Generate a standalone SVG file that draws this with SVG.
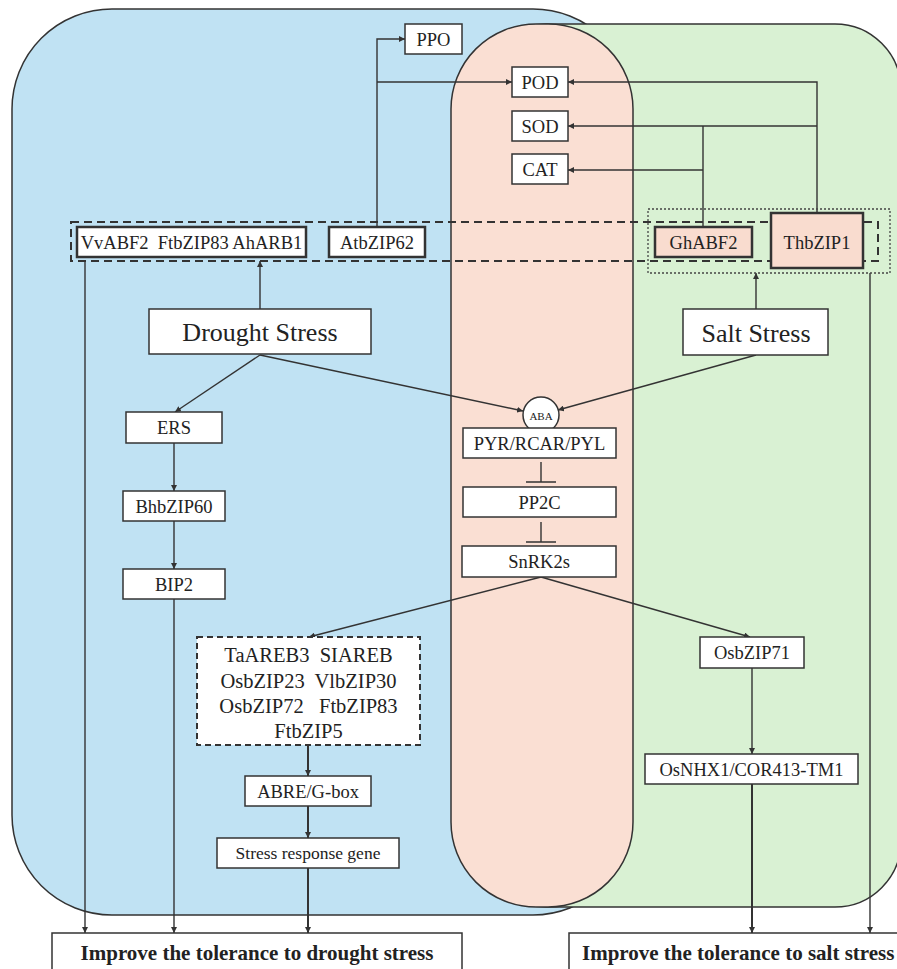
<svg xmlns="http://www.w3.org/2000/svg" width="897" height="969" viewBox="0 0 897 969">
<style>
text{font-family:"Liberation Serif","Times New Roman",serif;fill:#222;text-anchor:middle}
.bx{fill:#fff;stroke:#333;stroke-width:1.5}
.bxt{fill:#fff;stroke:#333;stroke-width:2.5}
.pk{fill:#f9dccf}
.c{fill:none;stroke:#333;stroke-width:1.4}
.t{font-size:18.5px}
</style>
<defs>
<marker id="ah" viewBox="0 0 10 10" refX="10" refY="5" markerWidth="6" markerHeight="6" markerUnits="userSpaceOnUse" orient="auto">
<path d="M0,0 L10,5 L0,10 z" fill="#333"/>
</marker>
</defs>
<g id="regions">
<rect x="12" y="9" width="621" height="906" rx="100" fill="#c0e2f3" stroke="#333" stroke-width="1.5"/>
<rect x="480" y="24" width="421" height="883" rx="66" fill="#d9f1d3" stroke="#333" stroke-width="1.5"/>
<rect x="451" y="24" width="182" height="883" rx="85" fill="#fadfd3" stroke="#333" stroke-width="1.5"/>
</g>
<g id="connectors" class="c">
<path d="M377,227 V39 H405" marker-end="url(#ah)"/>
<path d="M377,82 H512" marker-end="url(#ah)"/>
<path d="M817,213 V82 H568" marker-end="url(#ah)"/>
<path d="M817,126 H568" marker-end="url(#ah)"/>
<path d="M703,227 V126"/>
<path d="M703,170 H568" marker-end="url(#ah)"/>
<path d="M260,309 V261" marker-end="url(#ah)"/>
<path d="M756,309 V273" marker-end="url(#ah)"/>
<path d="M85,261 V933" marker-end="url(#ah)"/>
<path d="M870,273 V933" marker-end="url(#ah)"/>
<path d="M260,355 L175,412" marker-end="url(#ah)"/>
<path d="M260,355 L523,411" marker-end="url(#ah)"/>
<path d="M756,355 L558,410" marker-end="url(#ah)"/>
<path d="M174,443 V491" marker-end="url(#ah)"/>
<path d="M174,521 V569" marker-end="url(#ah)"/>
<path d="M174,599 V933" marker-end="url(#ah)"/>
<path d="M541,462 V482 M526,482 H556"/>
<path d="M541,522 V542 M526,542 H556"/>
<path d="M541,577 L309,637" marker-end="url(#ah)"/>
<path d="M541,577 L750,637" marker-end="url(#ah)"/>
<path d="M308,745 V776" marker-end="url(#ah)" stroke-width="2"/>
<path d="M308,806 V838" marker-end="url(#ah)" stroke-width="2"/>
<path d="M308,868 V933" marker-end="url(#ah)" stroke-width="2"/>
<path d="M752,668 V754" marker-end="url(#ah)"/>
<path d="M752,784 V933" marker-end="url(#ah)" stroke-width="2"/>
</g>
<g id="group-dashed">
<rect x="71" y="222" width="807" height="39" fill="none" stroke="#333" stroke-width="2" stroke-dasharray="8,5"/>
</g>
<g id="group-dotted">
<rect x="648" y="209" width="242" height="64" fill="none" stroke="#444" stroke-width="1.3" stroke-dasharray="2,2"/>
</g>
<g id="PPO"><rect class="bx" x="405" y="24" width="57" height="30"/><text class="t" x="433.5" y="45.5">PPO</text></g>
<g id="POD"><rect class="bx" x="512" y="67" width="56" height="30"/><text class="t" x="540" y="88.5">POD</text></g>
<g id="SOD"><rect class="bx" x="512" y="111" width="56" height="30"/><text class="t" x="540" y="132.5">SOD</text></g>
<g id="CAT"><rect class="bx" x="512" y="154" width="56" height="30"/><text class="t" x="540" y="175.5">CAT</text></g>
<g id="VvABF2"><rect class="bxt" x="77" y="227" width="229" height="30"/><text class="t" x="191.5" y="248.5" xml:space="preserve">VvABF2  FtbZIP83 AhARB1</text></g>
<g id="AtbZIP62"><rect class="bxt" x="329" y="227" width="96" height="30"/><text class="t" x="377" y="248.5">AtbZIP62</text></g>
<g id="GhABF2"><rect class="bxt pk" x="655" y="227" width="97" height="30"/><text class="t" x="703.5" y="248.5">GhABF2</text></g>
<g id="ThbZIP1"><rect class="bxt pk" x="771" y="213" width="92" height="55"/><text class="t" x="817" y="248.5">ThbZIP1</text></g>
<g id="DroughtStress"><rect class="bx" x="149" y="309" width="222" height="45"/><text x="260" y="341" font-size="26">Drought Stress</text></g>
<g id="SaltStress"><rect class="bx" x="683" y="309" width="145" height="46"/><text x="756" y="342" font-size="26">Salt Stress</text></g>
<g id="ABA"><circle cx="541" cy="415" r="18" fill="#fff" stroke="#333" stroke-width="1.5"/><text x="541" y="419.5" font-size="11">ABA</text></g>
<g id="PYR"><rect class="bx" x="463" y="428" width="153" height="30"/><text class="t" x="539.5" y="449.5">PYR/RCAR/PYL</text></g>
<g id="PP2C"><rect class="bx" x="463" y="487" width="153" height="30"/><text class="t" x="539.5" y="508.5">PP2C</text></g>
<g id="SnRK2s"><rect class="bx" x="462" y="546" width="154" height="31"/><text class="t" x="539" y="568">SnRK2s</text></g>
<g id="ERS"><rect class="bx" x="126" y="412" width="96" height="31"/><text class="t" x="174" y="434">ERS</text></g>
<g id="BhbZIP60"><rect class="bx" x="123" y="491" width="102" height="30"/><text class="t" x="174" y="512.5">BhbZIP60</text></g>
<g id="BIP2"><rect class="bx" x="123" y="569" width="102" height="30"/><text class="t" x="174" y="590.5">BIP2</text></g>
<g id="bZIPs">
<rect x="197" y="637" width="223" height="108" fill="#fff" stroke="#333" stroke-width="2" stroke-dasharray="6,4"/>
<text x="308.5" y="662" font-size="20.5" xml:space="preserve">TaAREB3  SIAREB</text>
<text x="308.5" y="688" font-size="20.5" xml:space="preserve">OsbZIP23  VlbZIP30</text>
<text x="308.5" y="713" font-size="20.5" xml:space="preserve">OsbZIP72   FtbZIP83</text>
<text x="308.5" y="738" font-size="20.5">FtbZIP5</text>
</g>
<g id="ABRE"><rect class="bx" x="245" y="776" width="126" height="30"/><text class="t" x="308" y="797.5">ABRE/G-box</text></g>
<g id="StressResponse"><rect class="bx" x="217" y="838" width="182" height="30"/><text x="308" y="859" font-size="17.5">Stress response gene</text></g>
<g id="OsbZIP71"><rect class="bx" x="700" y="637" width="104" height="31"/><text class="t" x="752" y="659">OsbZIP71</text></g>
<g id="OsNHX1"><rect class="bx" x="645" y="754" width="213" height="30"/><text class="t" x="751.5" y="775.5">OsNHX1/COR413-TM1</text></g>
<g id="ImproveDrought"><rect class="bx" x="52" y="933" width="410" height="50"/><text x="257" y="960" font-size="21" font-weight="bold">Improve the tolerance to drought stress</text></g>
<g id="ImproveSalt"><rect class="bx" x="569" y="933" width="340" height="50"/><text x="582" y="960" font-size="21" font-weight="bold" style="text-anchor:start">Improve the tolerance to salt stress</text></g>
</svg>
